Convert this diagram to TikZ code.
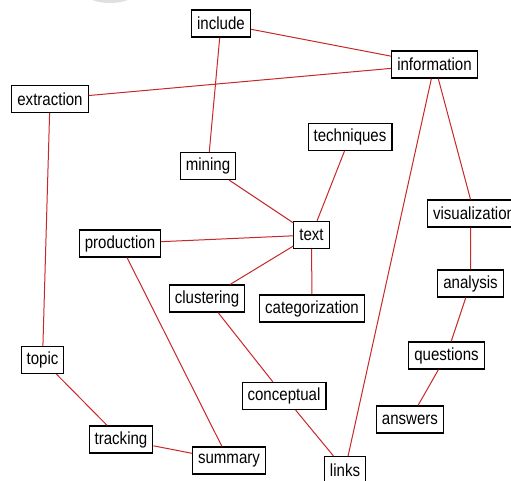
\documentclass[tikz,border=0pt]{standalone}
\usepackage{fontspec}
\setmainfont[FakeStretch=0.86]{Liberation Sans}
\definecolor{wirered}{RGB}{200,40,40}
\tikzset{>=stealth,
  word/.style={draw=black, line width=1.2pt, fill=white, inner xsep=5.5pt, inner ysep=3pt,
    minimum height=27pt, font=\fontsize{17.5}{20}\selectfont},
  wire/.style={draw=wirered, line width=1pt}}

\begin{document}
\begin{tikzpicture}[x=1pt,y=-1pt]
\useasboundingbox[fill=white] (0,0) rectangle (511,481);
\clip (0,0) rectangle (511,481);
\fill[gray!25] (110,-8) ellipse (26 and 11);
\node[word] (inc) at (221,23.5) {include};
\node[word] (inf) at (434.5,64.5) {information};
\node[word] (ext) at (50,99) {extraction};
\node[word] (min) at (208,166) {mining};
\node[word] (tec) at (350,137) {techniques};
\node[word,anchor=west] (vis) at (427,213.5) {visualization};
\node[word] (txt) at (311.5,235) {text};
\node[word] (pro) at (120,243.5) {production};
\node[word] (clu) at (207,298.5) {clustering};
\node[word] (cat) at (312,308.5) {categorization};
\node[word] (ana) at (470.5,283.5) {analysis};
\node[word] (top) at (42.5,360) {topic};
\node[word] (que) at (446.5,355.5) {questions};
\node[word] (con) at (284,396) {conceptual};
\node[word] (ans) at (410,419.5) {answers};
\node[word] (tra) at (121,439.5) {tracking};
\node[word] (sum) at (229,460.5) {summary};
\node[word] (lin) at (345,470) {links};
\draw[wire] (inc) -- (inf) (inc) -- (min) (ext) -- (inf) (ext) -- (top)
  (min) -- (txt) (tec) -- (txt) (pro) -- (txt) (txt) -- (clu) (txt) -- (cat)
  (pro) -- (sum) (clu) -- (con) (con) -- (lin) (inf) -- (lin)
  (inf) -- (vis.north -| ana) (vis.south -| ana) -- (ana) (ana) -- (que) (que) -- (ans)
  (top) -- (tra) (tra) -- (sum);
\end{tikzpicture}
\end{document}
